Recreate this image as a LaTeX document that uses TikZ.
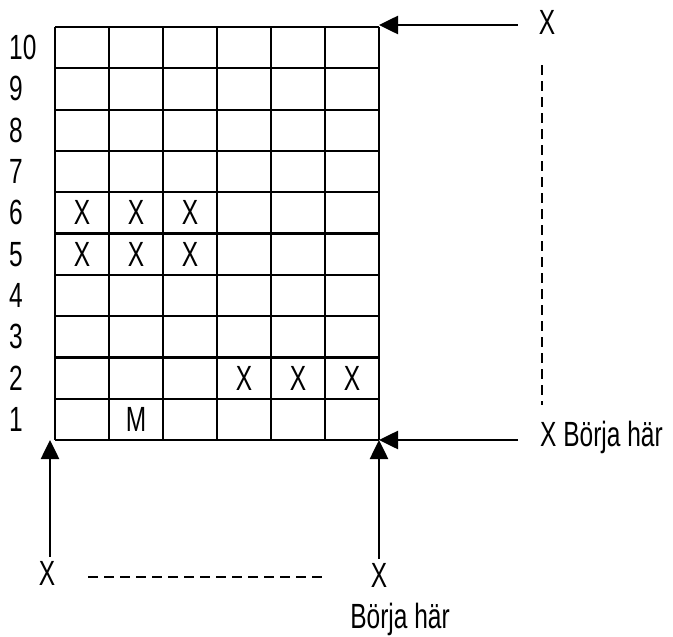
\documentclass[tikz,border=0pt]{standalone}
\usepackage{fontspec}
\setmainfont[FakeStretch=0.7]{Liberation Sans}
\usetikzlibrary{arrows.meta}

\tikzset{
  txt/.style={inner sep=0pt, font=\fontsize{35}{40}\selectfont},
  gridline/.style={line width=2.2pt},
  arr/.style={line width=2.6pt, -{Triangle[length=19pt,width=18pt]}},
  dashline/.style={line width=2pt, dash pattern=on 10pt off 6pt}
}

\begin{document}
\begin{tikzpicture}[x=1pt,y=-1pt]
  \useasboundingbox (0,0) rectangle (673,637);
  % grid
  \foreach \i in {0,...,6} \draw[gridline] (55+54*\i,27) -- (55+54*\i,440);
  \foreach \j in {0,...,10} \draw[gridline] (55,27+41.3*\j) -- (379,27+41.3*\j);
  \foreach \r in {1,...,10}
    \node[txt,anchor=west] (row\r) at (9,440-41.3*\r+20.65) {\r};
  \foreach \c/\r/\t in {1/6/X,2/6/X,3/6/X,1/5/X,2/5/X,3/5/X,4/2/X,5/2/X,6/2/X,2/1/M}
    \node[txt] (cell\c\r) at (55+54*\c-27,440-41.3*\r+20.65) {\t};
  % corners
  \coordinate (tr) at (379,25);
  \coordinate (br) at (379,440);
  \coordinate (bl) at (50,440);
  % right side
  \node[txt] (xtop) at (547,22) {X};
  \draw[arr, shorten <=21pt] (xtop.west |- tr) -- (tr);
  \draw[dashline] (542,65) -- (542,405);
  \node[txt,anchor=base west] (start) at (540,446) {X Börja här};
  \draw[arr, shorten <=22pt] (start.west |- br) -- (br);
  % bottom side
  \node[txt] (xleft) at (47,573) {X};
  \draw[arr, shorten <=4pt] (bl |- xleft.north) -- (bl);
  \draw[dashline] (88,577) -- (326,577);
  \node[txt] (xright) at (379,575) {X};
  \draw[arr, shorten <=4pt] (xright.north) -- (br);
  \node[txt,anchor=base] (start2) at (400,628) {Börja här};
\end{tikzpicture}
\end{document}
